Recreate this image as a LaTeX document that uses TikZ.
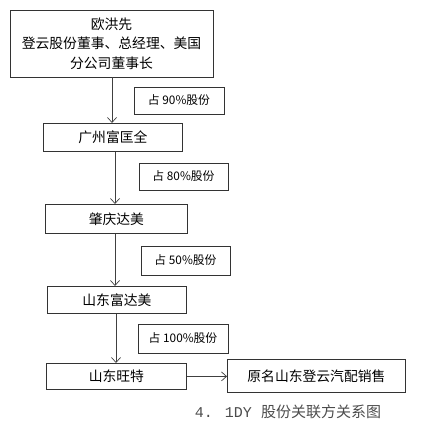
\documentclass[tikz,border=0pt]{standalone}
\usepackage{fontspec}
\setmainfont{Noto Sans CJK SC}
\newfontfamily\capfont{Noto Sans CJK SC}
\newfontfamily\capmono{Liberation Mono}
\usetikzlibrary{arrows.meta}
\begin{document}
\begin{tikzpicture}[x=1pt,y=-1pt,
  entity/.style={draw=black!80,line width=0.8pt,inner sep=0pt,font=\fontsize{13.8}{19.5}\selectfont},
  share/.style={draw=black!80,line width=0.8pt,inner sep=0pt,font=\fontsize{11.8}{14}\selectfont},
  link/.style={draw=black!75,line width=0.7pt,-{Straight Barb[length=5pt,width=9pt]}}]
\useasboundingbox (0,0) rectangle (433,427);
\node[entity,minimum width=203pt,minimum height=67pt,align=center] (a) at (111.5,43.5)
  {欧洪先\\登云股份董事、总经理、美国\\分公司董事长};
\node[share,minimum width=90pt,minimum height=27pt] (s1) at (179,100.5) {占 90\%股份};
\node[entity,minimum width=139pt,minimum height=28pt,anchor=north west] (b) at (43,123) {广州富匡全};
\node[share,minimum width=89pt,minimum height=27pt] (s2) at (183.5,176.5) {占 80\%股份};
\node[entity,minimum width=142pt,minimum height=29pt,anchor=north west] (c) at (45,204) {肇庆达美};
\node[share,minimum width=89pt,minimum height=29pt] (s3) at (185.5,260.5) {占 50\%股份};
\node[entity,minimum width=139pt,minimum height=27pt,anchor=north west] (d) at (47,286) {山东富达美};
\node[share,minimum width=90pt,minimum height=29pt] (s4) at (183,338.5) {占 100\%股份};
\node[entity,minimum width=140pt,minimum height=26pt,anchor=north west] (e) at (46,363) {山东旺特};
\node[entity,minimum width=178pt,minimum height=33pt,anchor=north west] (f) at (227,359) {原名山东登云汽配销售};
\node[font=\fontsize{15}{18}\selectfont\capfont,text=black!70] (cap) at (288,412) {{\capmono 4. 1DY }股份关联方关系图};
\draw[link] (a.south -| 112,0) -- (b.north -| 112,0);
\draw[link] (b.south -| 115,0) -- (c.north -| 115,0);
\draw[link] (c.south -| 115,0) -- (d.north -| 115,0);
\draw[link] (d.south -| 116,0) -- (e.north -| 116,0);
\draw[link] (e.east) -- (f.west |- e.east);
\end{tikzpicture}
\end{document}
